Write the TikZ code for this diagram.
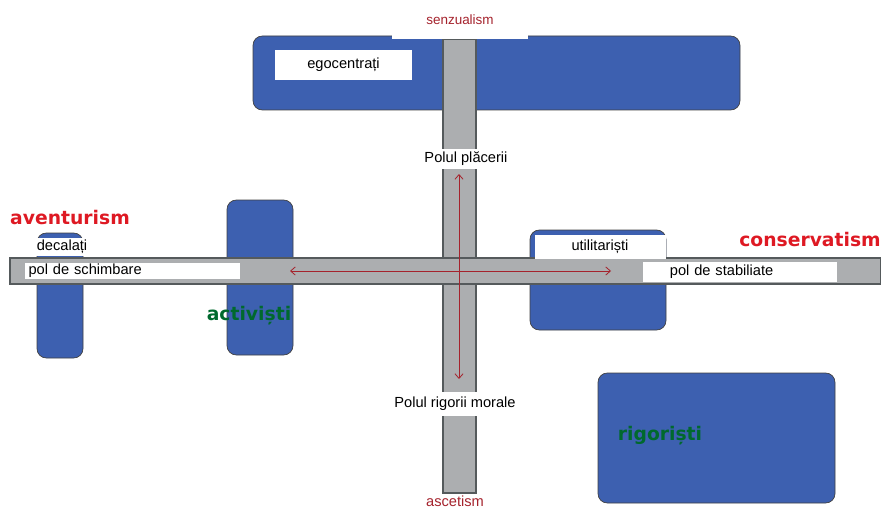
\documentclass[tikz,border=0pt]{standalone}
\usepackage{fontspec}
\setmainfont{Liberation Sans}
\newfontfamily\comicfont{DejaVu Sans}
\usetikzlibrary{arrows.meta, positioning}
\definecolor{pol_albastru}{RGB}{61, 96, 176}
\definecolor{pol_gri}{RGB}{172, 174, 176}
\definecolor{pol_gri_contur}{RGB}{85, 90, 92}
\definecolor{pol_rosu_inchis}{RGB}{165, 35, 45}
\definecolor{pol_rosu}{RGB}{222, 25, 35}
\definecolor{pol_verde}{RGB}{0, 105, 45}

\begin{document}
\begin{tikzpicture}[x=0.03cm, y=-0.03cm,
    bloc/.style={draw=black!75, fill=pol_albastru, rounded corners=8pt, line width=0.6pt},
    bara/.style={draw=pol_gri_contur, fill=pol_gri, line width=1pt},
    eticheta/.style={fill=white, inner sep=1pt, font=\fontsize{12.5}{14}\selectfont},
    curent/.style={draw=pol_rosu_inchis, line width=0.7pt,
      {Straight Barb[length=4pt, width=7pt]}-{Straight Barb[length=4pt, width=7pt]}},
    accent/.style={font=\comicfont\bfseries\fontsize{16}{18}\selectfont}]
        \useasboundingbox (0,0) rectangle (881,508);

        % Blocuri albastre
        \draw[bloc] (253,36) rectangle (740,110);
        \draw[bloc] (37,233) rectangle (83,358);
        \draw[bloc] (227,200) rectangle (293,355);
        \draw[bloc] (530,230) rectangle (666,330);
        \draw[bloc] (598,373) rectangle (835,503);

        % Axele
        \draw[bara] (443,39) rectangle (476,493);
        \draw[bara] (10,258) rectangle (881,284);
        \fill[pol_gri] (443.5,258.6) rectangle (475.5,283.4);

        % Polii
        \node[eticheta, minimum width=4.08cm, minimum height=1.17cm, text=pol_rosu_inchis,
          font=\fontsize{11.5}{13}\selectfont] (senz) at (460,19.5) {senzualism};
        \node[eticheta, minimum width=2.9cm, minimum height=0.6cm] (placere) at (466,159) {Polul plăcerii};
        \node[eticheta, minimum width=4.2cm, minimum height=0.7cm] (rigoare) at (455,404) {Polul rigorii morale};
        \node[text=pol_rosu_inchis, font=\fontsize{12.5}{14}\selectfont] (asc) at (455,501) {ascetism};
        \node[eticheta, anchor=west, minimum height=0.48cm, text width=6.25cm, align=left,
          inner xsep=0.1cm] (schimbare) at (25,271) {pol de schimbare};
        \node[eticheta, anchor=west, minimum height=0.6cm, text width=4.2cm, align=left,
          inner xsep=0.8cm] (stabil) at (643,272) {pol de stabiliate};

        % Tipuri
        \node[eticheta, minimum width=4.11cm, minimum height=0.9cm] (ego) at (343.5,65) {egocentrați};
        \node[eticheta, minimum width=3.93cm, minimum height=0.72cm] (util) at (600,247) {utilitariști};
        \node[eticheta, minimum width=1.86cm, minimum height=0.54cm] (decal) at (62,247) {decalați};

        % Atitudini
        \node[accent, text=pol_rosu] (avent) at (70,218) {aventurism};
        \node[accent, text=pol_rosu] (conserv) at (810,240) {conservatism};
        \node[accent, text=pol_verde] (activ) at (249,316) {activiști};
        \node[accent, text=pol_verde] (rigor) at (660,436) {rigoriști};

        % Sagetile
        \coordinate (st) at (290,271);
        \coordinate (dr) at (611,271);
        \coordinate (sus) at (459,174);
        \coordinate (jos) at (459,379);
        \draw[curent] (st) -- (dr);
        \draw[curent] (sus) -- (jos);
      \end{tikzpicture}
\end{document}
